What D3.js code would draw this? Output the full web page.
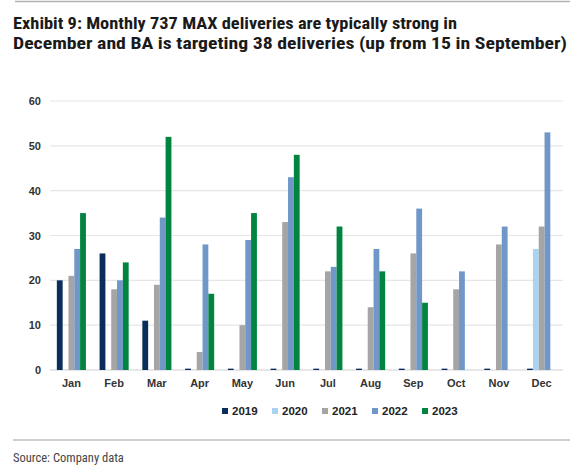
<!DOCTYPE html>
<html><head><meta charset="utf-8">
<script src="https://cdn.jsdelivr.net/npm/d3@7"></script>
<style>body{margin:0;background:#fff;} svg{display:block;}</style>
</head><body>
<svg id="c" width="577" height="475"></svg>
<script>
const months = ["Jan","Feb","Mar","Apr","May","Jun","Jul","Aug","Sep","Oct","Nov","Dec"];
const years = ["2019","2020","2021","2022","2023"];
const colors = ["#0b2d5b","#a8d4f2","#a5a5a5","#6f97c8","#00843f"];
const v2019 = [20,26,11,0.3,0.3,0.3,0.3,0.3,0.3,0.3,0.3,0.3];
const v2020 = [0,0,0,0,0,0,0,0,0,0,0,27];
const v2021 = [21,18,19,4,10,33,22,14,26,18,28,32];
const v2022 = [27,20,34,28,29,43,23,27,36,22,32,53];
const v2023 = [35,24,52,17,35,48,32,22,15,null,null,null];
const yTicks = [0,10,20,30,40,50,60];
const titleLines = ["Exhibit 9: Monthly 737 MAX deliveries are typically strong in","December and BA is targeting 38 deliveries (up from 15 in September)"];
const sourceText = "Source: Company data";

const series = [v2019,v2020,v2021,v2022,v2023];
const svg = d3.select("#c");
const condensed = "'Liberation Sans Narrow','Arial Narrow','Roboto Condensed',Roboto,sans-serif";

// frame lines
svg.append("line").attr("x1",15).attr("x2",570).attr("y1",1.5).attr("y2",1.5).attr("stroke","#b3b3b3").attr("stroke-width",1.5);
svg.append("line").attr("x1",13).attr("x2",570).attr("y1",440).attr("y2",440).attr("stroke","#a0a0a0").attr("stroke-width",1);

// title
const tl = [{t:titleLines[0],y:29,w:444},{t:titleLines[1],y:49,w:554}];
svg.selectAll("text.title").data(tl).join("text").attr("class","title")
  .attr("x",13).attr("y",d=>d.y).text(d=>d.t)
  .attr("font-family",condensed).attr("font-weight","bold").attr("font-size",16.5)
  .attr("fill","#1a1a1a").attr("textLength",d=>d.w).attr("lengthAdjust","spacingAndGlyphs");

const x0 = d3.scaleBand().domain(months).range([50,563]).paddingInner(0.32).paddingOuter(0.16);
const x1 = d3.scaleBand().domain(years).range([0,x0.bandwidth()]);
const y = d3.scaleLinear().domain([0,60]).range([370,101]);

// grid
const g = svg.append("g");
g.selectAll("line.grid").data(yTicks).join("line").attr("class","grid")
  .attr("x1",50).attr("x2",563).attr("y1",d=>y(d)).attr("y2",d=>y(d))
  .attr("stroke",d=>d===0?"#d0d0d0":"#e6e6e6").attr("stroke-width",1.2);

// y axis
const ya = svg.append("g").attr("transform","translate(41,0)")
  .call(d3.axisLeft(y).tickValues(yTicks).tickSize(0).tickPadding(0));
ya.select(".domain").remove();
ya.selectAll("text").attr("font-family","Arial,'Liberation Sans',sans-serif").attr("font-weight","bold")
  .attr("font-size",11).attr("fill","#333");

// bars
const grp = svg.append("g").selectAll("g").data(months).join("g")
  .attr("transform",d=>`translate(${x0(d)},0)`);
grp.selectAll("rect").data((m,i)=>years.map((yr,j)=>({yr,j,v:series[j][i]})).filter(d=>d.v!==null && d.v>0))
  .join("rect")
  .attr("x",d=>x1(d.yr)).attr("width",x1.bandwidth())
  .attr("y",d=>y(d.v)).attr("height",d=>Math.max(1,y(0)-y(d.v)))
  .attr("fill",d=>colors[d.j]);

// x axis
const xa = svg.append("g").attr("transform","translate(0,370)")
  .call(d3.axisBottom(x0).tickSize(0).tickPadding(9));
xa.select(".domain").remove();
xa.selectAll("text").attr("font-family","Arial,'Liberation Sans',sans-serif").attr("font-weight","bold")
  .attr("font-size",11).attr("fill","#333");

// legend
const leg = svg.append("g").selectAll("g").data(years).join("g")
  .attr("transform",(d,i)=>`translate(${222+i*50},411)`);
leg.append("rect").attr("x",0).attr("y",-3).attr("width",6).attr("height",6).attr("fill",(d,i)=>colors[i]);
leg.append("text").attr("x",10).attr("y",4).text(d=>d)
  .attr("font-family","Arial,'Liberation Sans',sans-serif").attr("font-weight","bold")
  .attr("font-size",11.5).attr("fill","#222");

// source
svg.append("text").attr("x",13).attr("y",462).text(sourceText)
  .attr("font-family",condensed).attr("font-size",12.5).attr("fill","#444");
</script>
</body></html>
